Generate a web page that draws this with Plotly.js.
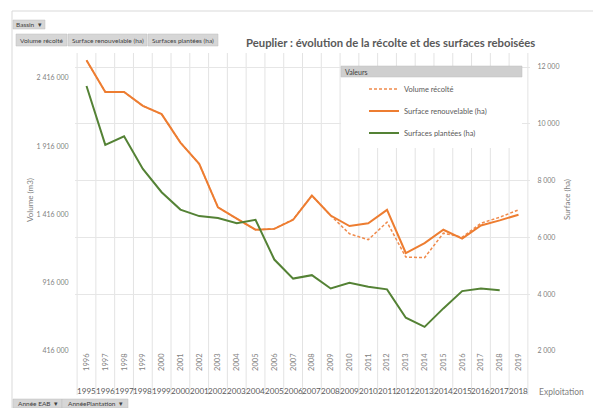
<!DOCTYPE html>
<html>
<head>
<meta charset="utf-8">
<script src="https://cdn.plot.ly/plotly-3.0.1.min.js"></script>
<style>html,body{margin:0;padding:0;background:#fff}#chart{width:593px;height:408px}</style>
</head>
<body>
<div id="chart"></div>
<script>
// ---- data ----
const years = ['1996','1997','1998','1999','2000','2001','2002','2003','2004','2005','2006','2007','2008','2009','2010','2011','2012','2013','2014','2015','2016','2017','2018','2019'];
const plantYears = ['1995','1996','1997','1998','1999','2000','2001','2002','2003','2004','2005','2006','2007','2008','2009','2010','2011','2012','2013','2014','2015','2016','2017','2018'];
const volumeRecolte = [2545000, 2314000, 2314000, 2212000, 2151000, 1944000, 1786000, 1469000, 1385000, 1304000, 1312000, 1380000, 1555000, 1409000, 1275000, 1231000, 1360000, 1104000, 1100000, 1279000, 1250000, 1352000, 1396000, 1450000];
const surfaceRenouvelable = [12240, 11120, 11120, 10630, 10340, 9340, 8590, 7060, 6660, 6270, 6300, 6620, 7470, 6770, 6400, 6500, 6970, 5450, 5800, 6270, 5960, 6420, 6600, 6800];
const surfacesPlantees = [11330, 9260, 9560, 8410, 7590, 6980, 6750, 6680, 6500, 6620, 5220, 4550, 4670, 4200, 4400, 4260, 4170, 3170, 2850, 3500, 4110, 4200, 4140, null];
const leftTicks = [416000, 916000, 1416000, 1916000, 2416000];
const rightTicks = [2000, 4000, 6000, 8000, 10000, 12000];
const seriesNames = ['Volume récolté', 'Surface renouvelable (ha)', 'Surfaces plantées (ha)'];

// ---- geometry helpers (pixel -> paper) ----
const W = 593, H = 408, L = 75, R = 63, T = 53, B = 57;
const PW = W - L - R, PH = H - T - B;
const px = v => (v - L) / PW;
const py = v => (H - B - v) / PH;

const FONT = 'Lato, "Open Sans", sans-serif';
const grey = '#7f7f7f';

const traces = [
  {x: years, y: volumeRecolte, name: seriesNames[0], yaxis: 'y', mode: 'lines',
   line: {color: '#F08A4B', width: 1.5, dash: '3px,2px'}, legend: 'legend'},
  {x: years, y: surfaceRenouvelable, name: seriesNames[1], yaxis: 'y2', mode: 'lines',
   line: {color: '#ED7D31', width: 2}, legend: 'legend2'},
  {x: years, y: surfacesPlantees, name: seriesNames[2], yaxis: 'y2', mode: 'lines',
   line: {color: '#548235', width: 2}, legend: 'legend3'}
];

const shapes = [];
const annotations = [];

// vertical gridlines continuing into label area
for (let k = 0; k <= years.length; k++) {
  shapes.push({type: 'line', xref: 'x', yref: 'paper', x0: k - 0.5, x1: k - 0.5,
    y0: py(395), y1: 1, line: {color: '#e3e3e3', width: 1}, layer: 'below'});
}
// second row of category labels
plantYears.forEach((t, i) => {
  annotations.push({xref: 'x', yref: 'paper', x: i, y: py(391), text: t, showarrow: false,
    font: {size: 8.1, color: '#595959', family: FONT}, xanchor: 'center', yanchor: 'middle'});
});

// outer frame lines
shapes.push({type: 'line', xref: 'paper', yref: 'paper', x0: px(12), x1: px(593), y0: py(11), y1: py(11), line: {color: '#d9d9d9', width: 1}});
shapes.push({type: 'line', xref: 'paper', yref: 'paper', x0: px(12), x1: px(12), y0: py(11), y1: py(408), line: {color: '#d9d9d9', width: 1}});

// legend panel
shapes.push({type: 'rect', xref: 'paper', yref: 'paper', x0: px(341), x1: px(522), y0: py(77), y1: py(148), fillcolor: '#ffffff', line: {width: 0}, layer: 'above'});
shapes.push({type: 'rect', xref: 'paper', yref: 'paper', x0: px(341), x1: px(522), y0: py(66), y1: py(77), fillcolor: '#cfcfcf', line: {color: '#bfbfbf', width: 0.5}, layer: 'above'});
annotations.push({xref: 'paper', yref: 'paper', x: px(343), y: py(71.5), text: 'Valeurs', showarrow: false, xanchor: 'left', yanchor: 'middle', font: {size: 7, color: '#404040', family: FONT}});

// buttons
function button(x0, x1, y0, y1, text) {
  shapes.push({type: 'rect', xref: 'paper', yref: 'paper', x0: px(x0), x1: px(x1), y0: py(y0), y1: py(y1),
    fillcolor: '#d6d6d6', line: {color: '#bdbdbd', width: 0.5}});
  annotations.push({xref: 'paper', yref: 'paper', x: px((x0 + x1) / 2), y: py((y0 + y1) / 2), text: text,
    showarrow: false, xanchor: 'center', yanchor: 'middle', font: {size: 6.5, color: '#404040', family: FONT}});
}
button(13, 45, 20, 29, 'Bassin &nbsp;▾');
button(16, 67, 34, 46, 'Volume récolté');
button(68, 147, 34, 46, 'Surface renouvelable (ha)');
button(148, 218, 34, 46, 'Surfaces plantées (ha)');
button(13, 62, 399, 408, 'Année EAB &nbsp;▾');
button(62, 128, 399, 408, 'AnnéePlantation &nbsp;▾');

// title
annotations.push({xref: 'paper', yref: 'paper', x: px(390), y: py(43), text: '<b>Peuplier : évolution de la récolte et des surfaces reboisées</b>',
  showarrow: false, xanchor: 'center', yanchor: 'middle', font: {size: 11.3, color: '#595959', family: FONT}});
// axis titles
annotations.push({xref: 'paper', yref: 'paper', x: px(30), y: py(200), text: 'Volume (m3)', textangle: -90,
  showarrow: false, xanchor: 'center', yanchor: 'middle', font: {size: 8, color: grey, family: FONT}});
annotations.push({xref: 'paper', yref: 'paper', x: px(567), y: py(200), text: 'Surface (ha)', textangle: -90,
  showarrow: false, xanchor: 'center', yanchor: 'middle', font: {size: 8, color: grey, family: FONT}});
annotations.push({xref: 'paper', yref: 'paper', x: px(561), y: py(392), text: 'Exploitation',
  showarrow: false, xanchor: 'center', yanchor: 'middle', font: {size: 8.5, color: grey, family: FONT}});

const legBase = {xanchor: 'left', yanchor: 'middle', bgcolor: 'rgba(0,0,0,0)', borderwidth: 0,
  font: {size: 7.5, color: '#595959', family: FONT}, itemclick: false};

const layout = {
  width: W, height: H,
  margin: {l: L, r: R, t: T, b: B},
  paper_bgcolor: '#ffffff', plot_bgcolor: '#ffffff',
  separators: ', ',
  font: {family: FONT, color: grey},
  xaxis: {type: 'category', tickson: 'boundaries', showgrid: false, tickangle: -90,
    tickfont: {size: 7.5, color: grey}, ticks: '', showline: false, zeroline: false, fixedrange: true},
  yaxis: {range: [416000, 2416000 + (78 - T) * 2000000 / 273], tickvals: leftTicks, tickformat: ',d',
    showgrid: false, zeroline: false, showline: false, tickfont: {size: 7, color: grey},
    ticks: 'outside', ticklen: 4, tickcolor: 'rgba(0,0,0,0)'},
  yaxis2: {overlaying: 'y', side: 'right', range: [2000, 12000 + (67 - T) * 10000 / 284], tickvals: rightTicks,
    tickformat: ',d', showgrid: true, gridcolor: '#e6e6e6', zeroline: false, showline: false,
    tickfont: {size: 7, color: grey}, ticks: 'outside', ticklen: 5, tickcolor: 'rgba(0,0,0,0)'},
  showlegend: true,
  legend: Object.assign({x: px(364), y: py(89)}, legBase),
  legend2: Object.assign({x: px(364), y: py(111)}, legBase),
  legend3: Object.assign({x: px(364), y: py(133)}, legBase),
  shapes: shapes,
  annotations: annotations
};

Plotly.newPlot('chart', traces, layout, {displayModeBar: false, staticPlot: true});
</script>
</body>
</html>
